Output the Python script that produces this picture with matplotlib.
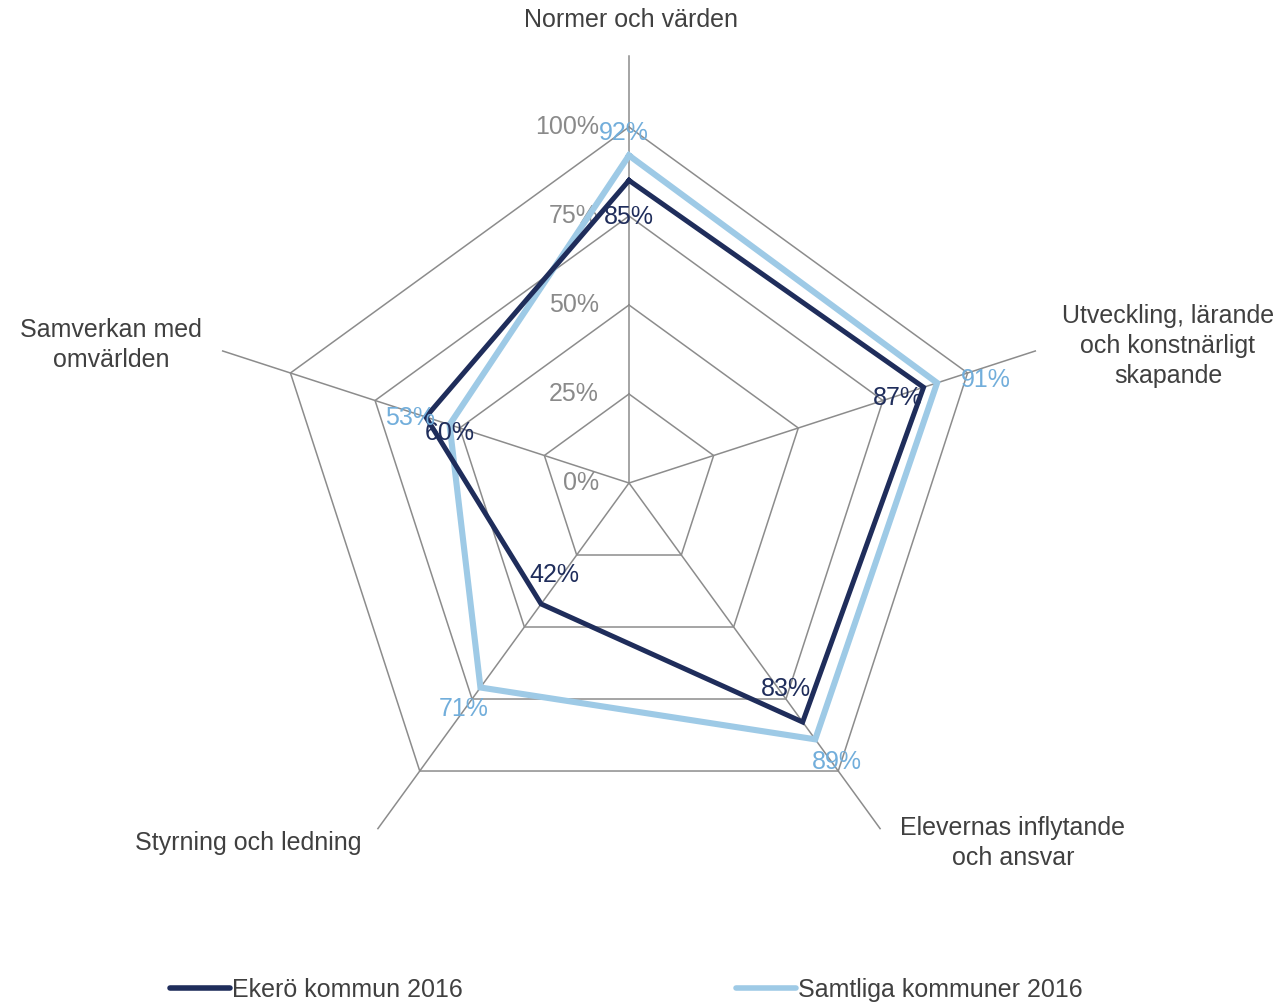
import numpy as np
import matplotlib
matplotlib.use("Agg")
import matplotlib.pyplot as plt

plt.rcParams['font.family'] = ['Liberation Sans', 'DejaVu Sans']

categories = ["Normer och värden",
              "Utveckling, lärande\noch konstnärligt\nskapande",
              "Elevernas inflytande\noch ansvar",
              "Styrning och ledning",
              "Samverkan med\nomvärlden"]
ekero = [0.85, 0.87, 0.83, 0.42, 0.60]
samtliga = [0.92, 0.91, 0.89, 0.71, 0.53]
series_names = ["Ekerö kommun 2016", "Samtliga kommuner 2016"]
ticks = [0.0, 0.25, 0.50, 0.75, 1.0]
tick_labels = ["0%", "25%", "50%", "75%", "100%"]
r_axis_max = 1.2

DARK = "#1F2D5B"
LIGHT = "#9ECAE6"
LIGHT_TXT = "#72AEDB"
GRID = "#8C8C8C"
TXT = "#404040"
FS = 18

W, H = 1286, 1006
CX, CY = 629, 483       # centre of the web, pixels from top-left
SCALE = 356             # pixels per 100 %

fig = plt.figure(figsize=(W / 100, H / 100), dpi=100)
ax = fig.add_axes([0, 0, 1, 1])
ax.set_xlim(-CX / SCALE, (W - CX) / SCALE)
ax.set_ylim(-(H - CY) / SCALE, CY / SCALE)
ax.axis("off")

n = len(categories)
ang = np.pi / 2 - 2 * np.pi * np.arange(n) / n


def xy(vals):
    v = np.asarray(vals, dtype=float)
    return v * np.cos(ang), v * np.sin(ang)


def closed(a):
    return np.append(a, a[0])


# spokes
for a in ang:
    ax.plot([0, r_axis_max * np.cos(a)], [0, r_axis_max * np.sin(a)],
            color=GRID, lw=1.1, zorder=1)
# rings
for t in ticks[1:]:
    gx, gy = xy([t] * n)
    ax.plot(closed(gx), closed(gy), color=GRID, lw=1.1, zorder=1)

# radial tick labels
for t, lab in zip(ticks, tick_labels):
    ax.text(-30 / SCALE, t, lab, ha="right", va="center", fontsize=FS,
            color="#8A8A8A", zorder=2)

# series
sx, sy = xy(samtliga)
ax.plot(closed(sx), closed(sy), color=LIGHT, lw=4.4, solid_joinstyle="miter",
        zorder=3)
ex, ey = xy(ekero)
ax.plot(closed(ex), closed(ey), color=DARK, lw=3.6, solid_joinstyle="miter",
        zorder=4)

# data labels (offsets in pixels: right, down)
ekero_off = [(0, 37), (-26, 11), (-17, -33), (13, -29), (24, 16)]
samt_off = [(-5, -22), (49, -3), (22, 23), (-17, 22), (-40, -7)]
for vals, offs, col, (px, py) in [(ekero, ekero_off, DARK, (ex, ey)),
                                   (samtliga, samt_off, LIGHT_TXT, (sx, sy))]:
    for v, (dx, dy), x0, y0 in zip(vals, offs, px, py):
        ax.annotate(f"{round(v * 100)}%", (x0, y0),
                    xytext=(dx * 0.72, -dy * 0.72), textcoords="offset points",
                    ha="center", va="center", fontsize=FS, color=col, zorder=5)

# category labels (pixel centres)
cat_pos = [(631, 20), (1168, 346), (1013, 843), (248, 843), (111, 345)]
for lab, (px, py) in zip(categories, cat_pos):
    fig.text(px / W, 1 - py / H, lab, ha="center", va="center", fontsize=FS,
             color=TXT, linespacing=1.33, multialignment="center")

# legend
h1, = ax.plot([], [], color=DARK, lw=4.0, solid_capstyle="round")
h2, = ax.plot([], [], color=LIGHT, lw=4.0, solid_capstyle="round")
leg = fig.legend([h1, h2], series_names, loc="center left", ncol=2,
                 bbox_to_anchor=(170 / W, 1 - 990 / H), frameon=False,
                 fontsize=FS, handlelength=2.4, handletextpad=0.1,
                 columnspacing=10.9, borderpad=0, borderaxespad=0)
for t in leg.get_texts():
    t.set_color(TXT)

fig.savefig("out.png", dpi=100)
